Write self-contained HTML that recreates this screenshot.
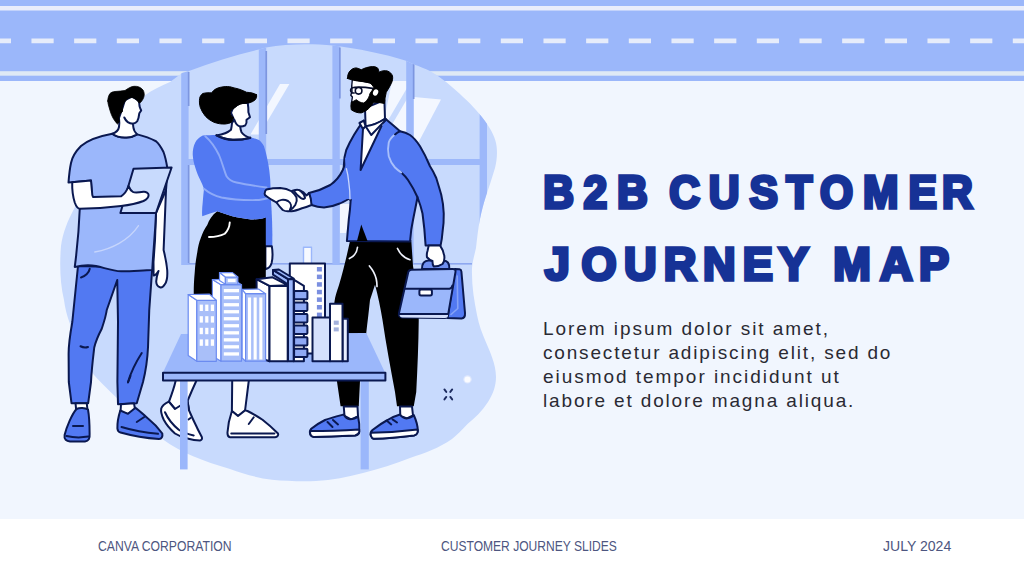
<!DOCTYPE html>
<html lang="en">
<head>
<meta charset="utf-8">
<title>B2B Customer Journey Map</title>
<style>
html,body{margin:0;padding:0;}
body{width:1024px;height:576px;overflow:hidden;background:#f1f6fe;position:relative;font-family:"Liberation Sans",sans-serif;}
#band{position:absolute;left:0;top:0;width:1024px;height:81.2px;background:#9bb7fa;}
#art{position:absolute;left:0;top:0;width:1024px;height:576px;}
#footer{position:absolute;left:0;top:518.5px;width:1024px;height:58px;background:#ffffff;}
.ft{position:absolute;top:538px;font-size:14.3px;line-height:16px;color:#4d5680;white-space:nowrap;transform-origin:0 50%;}
#title{font-family:"Liberation Sans",sans-serif;font-weight:bold;font-size:47px;fill:#163296;stroke:#163296;stroke-width:3.6;stroke-linejoin:miter;}
p{position:absolute;margin:0;left:543px;top:317.45px;font-size:19px;line-height:23.75px;color:#2a2a33;white-space:nowrap;}
p span{display:block;}
</style>
</head>
<body>
<div id="band"></div>
<div id="footer"></div>
<svg id="art" width="1024" height="576" viewBox="0 0 1024 576">
<g id="bandlines">
<rect x="0" y="6" width="1024" height="4.5" fill="#e9edfb"/>
<rect x="0" y="71.2" width="1024" height="4.5" fill="#dfe9f5"/>
<line x1="-11.2" y1="40.9" x2="1040" y2="40.9" stroke="#e6ecfa" stroke-width="4.8" stroke-dasharray="22.2 20.467"/>
</g>
<defs>
<clipPath id="blobclip"><path d="M182,73 L189,71 C212,62 236,55 259,49.5 L266,47.6 C288,43.5 312,43.5 333,45.6 C358,48.5 384,54 406,60.8 L414,64.4 C420,66.5 425,68.5 430,71 C438,75.5 445,81 452,87 C462,95.5 472,105 479,113.5 C487,123 493,132 495.5,141 C498,150 497,160 495,168 C492,178 489,187 486,196 C483.5,204 481.5,211 480,219 C478,229 477,239 476,248 C474.5,255 472.5,261 472,268 C471.5,285 474,300 477,315 C479,325 482,333 485,340 C490,352 496,364 496,377 C496,386 493,394 488,402 C482,411 475,418 467.5,424 C462,430 457,435 452,439 C439,448 425,453 410,458 C395,464 379,469 363,473 C348,477 332,480 316,481 C301,481.5 286,481 272,479.7 C257,478 243,473.5 230,469 C217,465 204,461 192.5,456 C182,451.5 172,446 163,439.5 C152,431 141,421 130,410.5 C117,398 104,386 94,375 C85,362 76,343 70,324 C67,316 65,308 64,300 C60,283 59.5,264 61,246 C63,232 68,220 74,209 C92,170 115,126 144,96 C152,90 161,86 170,82 Z"/></clipPath>
</defs>
<g id="blob">
<path fill="#c8dafd" d="M182,73 L189,71 C212,62 236,55 259,49.5 L266,47.6 C288,43.5 312,43.5 333,45.6 C358,48.5 384,54 406,60.8 L414,64.4 C420,66.5 425,68.5 430,71 C438,75.5 445,81 452,87 C462,95.5 472,105 479,113.5 C487,123 493,132 495.5,141 C498,150 497,160 495,168 C492,178 489,187 486,196 C483.5,204 481.5,211 480,219 C478,229 477,239 476,248 C474.5,255 472.5,261 472,268 C471.5,285 474,300 477,315 C479,325 482,333 485,340 C490,352 496,364 496,377 C496,386 493,394 488,402 C482,411 475,418 467.5,424 C462,430 457,435 452,439 C439,448 425,453 410,458 C395,464 379,469 363,473 C348,477 332,480 316,481 C301,481.5 286,481 272,479.7 C257,478 243,473.5 230,469 C217,465 204,461 192.5,456 C182,451.5 172,446 163,439.5 C152,431 141,421 130,410.5 C117,398 104,386 94,375 C85,362 76,343 70,324 C67,316 65,308 64,300 C60,283 59.5,264 61,246 C63,232 68,220 74,209 C92,170 115,126 144,96 C152,90 161,86 170,82 Z"/>
<g clip-path="url(#blobclip)">
<!-- glints -->
<polygon fill="#f3f7ff" points="280,84 289.4,84 259.5,134.5 250.5,134.5"/>
<polygon fill="#f3f7ff" points="392,81 407,81 407,140 380,140 "/>
<polygon fill="#c8dafd" points="407,88 407,99 383,140 376.5,140"/>
<polygon fill="#f3f7ff" points="414,97 441,99.4 416,147 414,147"/>
<!-- sill -->
<polygon fill="#f3f7ff" points="340,204 353,204 346,233 340,233"/>
<rect x="182" y="263" width="290" height="1.6" fill="#8ea8f0"/>
<!-- horizontal bar -->
<rect x="182" y="159" width="305" height="6" fill="#9db8fa"/>
<!-- mullions -->
<rect x="181.2" y="40" width="7.4" height="225" fill="#9db8fa"/>
<rect x="258.8" y="40" width="7.4" height="225" fill="#9db8fa"/>
<rect x="332.4" y="40" width="7.4" height="225" fill="#9db8fa"/>
<rect x="406.2" y="40" width="7.4" height="225" fill="#9db8fa"/>
<rect x="479.6" y="40" width="7.4" height="225" fill="#9db8fa"/>
<rect x="187.8" y="72" width="1.7" height="34" fill="#7d96e0"/>
<rect x="187.8" y="165" width="1.7" height="98" fill="#7d96e0"/>
<rect x="265.4" y="51" width="1.7" height="83" fill="#7d96e0"/>
<rect x="339" y="47.5" width="1.7" height="51" fill="#7d96e0"/>
<rect x="412.8" y="64" width="1.7" height="35" fill="#7d96e0"/>
</g>
</g>
<g id="manleft" stroke="#0a1850" stroke-width="2" stroke-linejoin="round" stroke-linecap="round" fill="none">
<!-- pants -->
<path fill="#5279f2" d="M78,266 L72.3,322 C70,335 68.6,345 68.6,353.75 L68.8,382 L71.5,403.2 L88.2,403.2 L91,382 C91.5,370 93,358 94.25,347.5 C96,340 99,334 101.75,328.75 C104,322 106,316 106.75,310 L117.25,280 L118,322 L117.4,382 L118,404.2 L136.75,403.2 L143,382 C146,370 147.5,358 148,347.5 L149.25,310 L152.25,268 Z"/>
<path d="M89.75,268.75 C89,273 85,276.5 81,277.5"/>
<path d="M80.5,346.25 C83,347.6 85.5,347.8 88,347"/>
<path d="M141.75,353 C136,362 131,372 128,382"/>
<path d="M130.5,376 L128,382.5"/>
<!-- socks -->
<path fill="#ffffff" d="M75.5,403.2 L76.2,410 L87.5,410 L86.75,403.2 Z"/>
<path fill="#ffffff" d="M121,404.2 L120.5,412 L128,414 L135,409 L134,403.3 Z"/>
<!-- left shoe (front view) -->
<path fill="#5279f2" d="M76.5,409 C72,414 66.5,427 64.6,435 C63.8,439.5 66.5,441.2 70,441.5 L85,441.5 C88.6,441.2 90,438.5 89.6,434 C89.6,425 89,415 88,409.5 C85,407.8 79.5,407.6 76.5,409 Z"/>
<path d="M66.5,436 C73,437.6 81,437.8 88.5,436.6"/>
<path d="M73,426 L83,426"/>
<!-- right shoe (side view) -->
<path fill="#5279f2" d="M120.3,410.5 C118.5,416 117.2,423 117.4,428.5 C117.6,431 118.8,432 120.5,432.5 C133,436 147,438.2 159,439 C161.8,438.8 162.8,436.2 162.3,433.5 C158,427.5 153,422.5 148,418.5 C144,415 139.5,410.5 135.5,407.8 L128,413.8 Z"/>
<path d="M121.5,427 C133,430.5 146,432.8 158,433.8"/>
<path d="M136.75,422 L144.25,417"/>
<!-- right arm hanging -->
<path fill="#ffffff" d="M157,166 L166.8,168 C166.6,176 166.2,184 166,190 C165.5,205 164.5,228 163.6,250 C165,256 166.5,262 167.2,270 C167.6,276 167,281 165,284 C163.5,286.5 161.5,287.8 160,287.3 C157.5,286.5 156.3,284 156.2,281.5 C156.3,278 157.5,274 158.5,271 C157,273.5 155.3,275.6 153.6,275.6 L153.5,262 L155,240 L156,213 Z"/>
<!-- shirt -->
<path fill="#9bb7fb" d="M112.25,133.75 C100,136 88,140 81,146 C75,152 72,158 71,163 C69.5,170 69,176 68.5,182.5 L91,180.6 L92,200 L79.75,209 C79,228 77,250 74.75,267 C82,265.2 90,265 96,266 C105,268 113,271 121,271.3 C131,271.5 142,270.2 152.25,270 C153,255 155,235 156,213 L166,190 L167.25,167.5 C166,160 165,156 163.5,152 C161,147 158,143 156,141.25 C150,138 144,136 137.25,134.4 C133,137 128,137.8 124.75,137.5 C120,137.5 116,136.5 112.25,133.75 Z"/>
<path stroke="#c6d5fc" stroke-width="1.3" d="M94.75,252 C112,249 129,240 138.5,225.6"/>
<!-- tablet -->
<path fill="#c8dafd" d="M133.5,168.75 L171.6,167.5 L156,213 L120.4,213 Z"/>
<!-- left arm + hand -->
<path fill="#ffffff" d="M72.2,182.3 C72,190 73,197 74.75,202.5 C76,206 77.5,208.5 79.75,208.75 C95,208.5 108,207.5 121,206 C130,205 137,203.5 143.5,201 C146.5,199.5 148.6,197.5 148.6,195 C148.6,193 146,191.6 143.5,191.8 C139,192.6 135,193.2 133,192 C130.5,190.6 129.5,188.4 128.5,186 C127.5,189 125.5,193.5 121,196.3 L93,197 L92.3,195 L91,180.6 Z"/>
<!-- neck + face -->
<path fill="#ffffff" d="M122.5,108 L119,118 C119.5,122 119.3,125 119,127 C118.6,129.5 116.5,132.3 112.25,133.75 C116,136.5 120,137.5 124.75,137.5 C128,137.8 133,137 137.25,134.4 C135,132.5 133.6,130 133.3,127 L133,123.8 C135,123.4 136.4,122.6 137.2,121.3 C138.4,119 139,116 139.3,113.3 L141.2,110.5 C140.4,108.8 139.8,107.3 139.5,106 L139,101 L132,96.5 L125,100 Z"/>
<path d="M124.3,117.5 C125.8,121 129,123.6 133,123.8"/>
<!-- hair -->
<path fill="#000000" stroke="#000000" stroke-width="0.8" stroke-linejoin="round" d="M107.75,101 C107.9,98 108.6,95.5 110,93.5 C111.3,92.3 113,91.7 115,91.5 C118.5,91.3 122,91 125,90.5 C126.3,89.6 127.6,88.7 129,88 C130.6,87 132.3,86.4 134,86.3 C135.8,86.2 137.5,86.4 139,87 C140.7,87.7 142,88.7 143,90 C143.9,91.5 144.3,93.2 144.2,95 C144.1,96.5 143.7,97.8 143,99 C142.3,100.3 141.5,101.5 140.5,102.5 L139,103 C138.2,101.6 137.2,100.4 136,99.5 C134.8,98.5 133.5,97.8 132,97.5 C130.4,97.4 128.9,97.9 127.5,99 C126.1,100.1 125,101.5 124,103 C123.2,104.6 122.7,106.3 122.5,108 L122.5,111.5 C121.8,112.5 120.8,113.2 120,114 C119.4,115.3 119.1,116.6 119,118 C119,119.3 119.2,120.4 119.5,121.5 C119,122.6 118.4,123.4 117.5,124 C116.5,123.2 115.7,122.2 115,121 C114,119.8 113.2,118.4 112.5,117 C111.7,115.4 111,113.7 110.5,112 C109.9,110.4 109.4,108.7 109,107 C108.4,105 107.9,103 107.75,101 Z"/>
</g>
<g id="woman" stroke="#0a1850" stroke-width="2" stroke-linejoin="round" stroke-linecap="round" fill="none">
<!-- legs -->
<path fill="#ffffff" d="M176.5,372 L196.5,372 L196.25,381 C193,388 190,395 187.5,401 L189,409.5 L175,409 L169,401.6 C171.5,395 174,388 175.6,381 Z"/>
<path fill="#ffffff" d="M232.3,372 L249,372 L248.75,381 C247.5,391 246.2,401 245,411 L238,416 L231.9,411 Z"/>
<!-- left shoe -->
<path fill="#ffffff" d="M168.75,401.6 C165,403.5 162,406 161.25,408.5 C160.5,412 162,416 163.75,419.75 C166.5,425 170.5,429.5 175,433.5 C179,436 183,437.6 187.5,438.5 C192,439.8 196,440.4 200,440.4 C201.8,440 202.3,438.6 201.9,437.25 C200,433.5 198,430 196.25,426 C193.5,420.5 191,415 188.75,409.75 L187.5,401 L180.5,405.5 L175,409 Z"/>
<path d="M165,412.25 C168,419 173,425 178.75,429.75 C183,432.5 188,434.3 193.75,435.4"/>
<path d="M188.5,419.5 L190.5,418"/>
<!-- right shoe -->
<path fill="#ffffff" d="M231.9,411 C229.5,418 228,425 227.5,432.25 C227.3,435.5 228.3,437 230,437.25 L275,437.25 C277.5,437 278.6,435.2 278,433.5 C273,428.5 268,424 262.5,419.75 C257.5,416.5 252.5,413.5 247.5,411 L245,410.4 L238,416 Z"/>
<path d="M231.25,433.5 L274.4,433.5"/>
<path d="M248.75,424 L253.75,417.25"/>
<!-- far arm -->
<path stroke="none" fill="#5279f2" d="M265,214 L270.6,196 C272,212 272.6,230 272.3,246.5 L265,246.5 Z"/>
<path fill="#ffffff" d="M265.4,246.2 L271.8,246.2 C272.8,252 272.8,258 271.6,263 C270.6,266.5 268.5,268.6 265.4,269.2 Z"/>
<!-- skirt -->
<path stroke="none" fill="#000000" d="M217.25,211.25 C212,215 209,220 207.25,225 C204.5,229 202.5,233 201,237.5 C199,242 198,247 197.25,252.5 C196,259 195.2,265 194.75,272 C194,280 193.75,286 193.75,292 L193.75,298 L265.8,298 L265.8,217.5 C260,219.3 255.5,219.6 251,219.4 C244,218.6 238,217.6 232.25,216.25 C227,214.8 222,213 217.25,211.25 Z"/>
<path stroke="#ffffff" stroke-width="1.9" d="M229.75,222.5 C229.5,227 227.5,231 224.75,233.75 C220.5,236 215,237 209,237"/>
<!-- sweater -->
<path stroke="none" fill="#5279f2" d="M216.5,135 C212,135 207,135.2 202.75,135.6 C199,137.5 196.5,140 195.25,142.5 C193.2,146.5 192.6,151 192.75,155 C193,159.5 194,163.5 195.25,167.5 C196.6,172 198.3,176 200.25,180 C201.8,183 203,186 204,188.75 C203.6,193 203,197.5 202.75,202 C202.2,207 201.8,212 202.25,216.25 L210,213.5 L217.25,211.25 C222,213 227,214.8 232.25,216.25 C238,217.6 244,218.6 251,219.4 C255.5,219.6 260,219.3 265.4,217.5 L271,216 L270.6,190 L270.25,180 C269.8,173.5 269,167 267.75,161.25 C266.8,156 265.5,151 264,146.25 C262.5,143.5 261,141.5 259,140 C256,138.8 253,138 250.25,137.5 C245,139 239,139.9 232.75,139.75 C227,139.5 221,137.5 216.5,135 Z"/>
<path stroke="#8eaaf8" stroke-width="1.9" d="M205.25,136.25 C212,142 216,149 219,155 C222,162 224,170 226.5,176.25 C229,180 232,181.5 236.5,182.5 C246,184.5 256,186 266.5,187.5"/>
<path stroke="#8eaaf8" stroke-width="1.9" d="M204,188.75 C209,193 215,196 221.5,197.5 C233,199.8 246,200.3 259,200 C263,199.5 267,198.5 270.25,197.5"/>
<!-- neck + face -->
<path fill="#ffffff" d="M234,119.75 C233.5,121 232.5,122 232,123 C231.8,125.5 231.5,127.5 231,129.75 C228,132.5 222.5,134.5 216.5,135.4 C221,137.5 227,139.5 232.75,139.75 C239,139.9 245,139 250.25,137.9 C246,136.5 243,134.5 241.5,132.25 C240.8,130.5 240.4,128.5 240.25,126.6 C242,126.6 244,126.2 245.25,125.4 C246.5,124 246.8,121.8 246.5,119.75 L250,117.25 C249.5,115.5 249,114 248.4,112.25 C248.5,109 248.2,106 247.75,102.9 L240,103 L233,108 L231,113 Z"/>
<path d="M234.5,120 C235.5,123.5 237.5,125.8 240.25,126.6"/>
<path stroke-width="2.2" d="M216.5,135.2 C221,137.7 227,139.7 232.75,139.95 C239,140.1 245,139.2 250.25,137.7"/>
<!-- hair -->
<path fill="#000000" stroke="#000000" stroke-width="1" d="M256.5,94.75 C254,93 250,92.5 246.5,92.25 C242,90 238,88.6 234,87.9 C231,86.8 228,86.4 225.25,86.6 C222,86.8 219,87.5 216.5,88.5 C214.5,89.5 213,91 211.5,92.9 C208.5,92.6 205.5,92.8 202.75,93.5 C201,94.8 200,96.5 199.6,98.5 C199.2,101.5 199.5,104.5 200.25,107.25 C201.5,110.5 203.2,113.5 205.25,116 C207.8,118.8 210.8,120.8 214,122.25 C217.5,123.6 221.5,124.2 225.25,124 C227.5,123.8 229.8,123.2 231.5,122.25 C232.5,120.5 233.2,119 233.4,117.25 C231.8,116.5 230.3,115 230.25,112.9 C230.5,110.5 232,109 234,108.5 C236,106 239,104.3 242.75,103.5 C245,103.1 247,103 249,102.9 C251.5,102.3 253.6,101.2 255.25,99.75 C256.5,98.2 257,96.5 256.5,94.75 Z"/>
</g>
<g id="manright" stroke="#0a1850" stroke-width="2" stroke-linejoin="round" stroke-linecap="round" fill="none">
<!-- pants -->
<path stroke="none" fill="#000000" d="M350,241 C347,255 343,272 339,285 C337,291 335.5,296 335,298.5 C334,304 333.6,310 334,318 C334.5,340 335.5,360 336.9,381 L340.6,406.25 L358.75,406.25 L360,381 C361,365 363.5,348 366.25,333 C367.5,322 369,310 370,300 L375,284.75 C378,296 380.5,308 382.5,320 C386,344 390.5,368 395,392 L397,406.25 L413.75,406.25 L416.25,392 C417.5,368 418.5,344 418.75,320 C418,300 416,282 413,266 L411.25,240 L350,240 Z"/>
<path stroke="#eef1fb" stroke-width="1.7" d="M369.4,266 C372.5,269.5 375,274 376.25,279 C376.8,281.5 377,284 377,286.5"/>
<path stroke="#eef1fb" stroke-width="1.7" d="M357.5,247.25 C357,252 354,256.5 349.4,258.5"/>
<path stroke="#eef1fb" stroke-width="1.7" d="M397.5,248.5 C400,254 404.5,258 410,259.75"/>
<!-- socks -->
<path fill="#ffffff" d="M343.75,406.5 L344.5,416 L351,419.5 L358,416.5 L357.5,406.5 Z"/>
<path fill="#ffffff" d="M400,406.5 L400.3,416 L407,418.5 L413,415.5 L412,406.5 Z"/>
<!-- left shoe -->
<path fill="#5279f2" d="M343.75,414.5 C336,416.5 330,418 325,420 C320,422.5 315,425.5 311.25,428.75 C309.8,430.5 309.6,433 310.5,434.8 C311.2,436.2 312.4,437 313.75,437 C327.5,437 341.5,436.3 355,435.6 C357.5,435.2 359,433.5 359.4,431.5 C359.6,426 359,420.5 358,416.25 C356,418.2 353,419.2 350,419.2 C347,419 345,417 343.75,414.5 Z"/>
<path fill="#ffffff" d="M310.3,431 C326,431 343,430.4 359.3,429.4 L359.4,431.5 C359,433.5 357.5,435.2 355,435.6 C341.5,436.3 327.5,437 313.75,437 C312.4,437 311.2,436.2 310.5,434.8 C310,433.6 310,432.2 310.3,431 Z"/>
<path d="M327.5,422 L332.5,427"/><path d="M333,420 L338,424.4"/>
<!-- right shoe -->
<path fill="#5279f2" d="M400,414.5 C395,416 391,417.8 387.5,420 C382,423 377,426.5 372.5,430 C370.6,431.8 370.2,434 371,436 C371.6,437.6 372.6,438.6 373.75,438.75 C388,438.2 402,436.8 414,435.4 C416.3,435 417.6,433 417.8,431 C417.9,425.5 416,420 413.75,415 C412,417.2 409.5,418.4 406.5,418.4 C403.5,418.2 401.3,416.6 400,414.5 Z"/>
<path fill="#ffffff" d="M371,432.8 C386,432.5 402,431.3 417.6,429.4 L417.8,431 C417.6,433 416.3,435 414,435.4 C402,436.8 388,438.2 373.75,438.75 C372.6,438.6 371.6,437.6 371,436 C370.6,435 370.7,433.8 371,432.8 Z"/>
<path d="M387.5,421.25 L391.25,424.4"/><path d="M392.5,419.4 L397,422.5"/>
<!-- jacket silhouette -->
<path fill="#5279f2" d="M363.75,120.6 C358,128 351,139 346.25,150 C344.5,155 343.8,161 343.75,166.25 C345.5,170 347.5,173 348.75,176 C350,184 350.6,193 350.6,201 C350.3,207 349.6,213.5 348.75,219.75 L346.9,241 L410,241.6 L411.25,229.75 C413,219 415.5,208 417.5,197.25 C419.5,202.5 421.3,208 422.5,213.5 C424,224 425,235 425.6,245.4 L440.6,245.4 C441.6,241 442.2,236.5 442.5,232.25 C443.5,226 443.9,220 443.75,213.5 C443.5,207 442.6,200.5 441.25,194.75 C439.5,188.5 437.5,182 436.25,178 C434.5,174 432.5,170 430,166.25 C427,159 423.5,152 420,146.25 C417,141.5 413.5,137.5 410,135 C407,133.2 403.5,132 400,131.25 C395,127 390.5,123 386.25,119.4 L371.25,135 Z"/>
<path stroke="none" fill="#000000" d="M361.25,224.5 L357,241 L367.5,241 Z"/>
<path d="M401.25,172.5 C404,175 406,177 408,180 C412,186 415,191.5 417.5,197.25"/>
<path stroke="#a9c0fb" stroke-width="1.9" d="M395,134.4 C391.5,137 389.5,139.8 388.75,142.5 C387.8,147 387.8,152 388.75,156.25 C390,160.5 392.2,164.3 395,167.5 C397,169.5 399,171 401.25,172.5"/>
<path d="M395,134.4 C397,132.5 398.5,131.8 400,131.25"/>
<!-- handshake sleeve -->
<path fill="#5279f2" d="M309,193 C316,191.5 323,189 330.25,185 C336,181 340,176 342.75,170 C344,167 345,164 346,160 L350.5,200 C350,199.4 349.6,199 349,198.75 C346,200.5 342.5,202.5 339,203.75 C334,206 329,207.2 324,207.5 C319.5,207.3 315.5,206.5 311.5,205 Z"/>
<path stroke="none" fill="#5279f2" d="M345,158 L352,158 L352,199 L347,199 Z"/>
<path stroke="#c9d7fd" stroke-width="1.3" d="M346.4,168.75 C347.6,173 348.4,177.5 348.75,182 C349.6,188 350,194 350,199"/>
<!-- shirt V + collar + neck -->
<path stroke="none" fill="#ffffff" d="M363,125 L360.6,170 L384,122 Z"/>
<path d="M363,128.75 L360.6,170 L381.5,126"/>
<path fill="#ffffff" d="M365,108 L365.6,126.25 C372,125.5 379,122.8 385,118.75 L384.4,100 Z"/>
<path fill="#ffffff" d="M359.4,123 L363.75,120.6 L365.6,126.25 L363,129 Z"/>
<path fill="#ffffff" d="M365.6,126.25 C372,125.5 379,122.8 385,118.75 L386.25,119.4 L371.25,135 Z"/>
<!-- face -->
<path fill="#ffffff" stroke="#060c2a" stroke-width="1.4" d="M352.4,79 C351.6,84 351.6,88 352,91.5 L350.8,95.2 L352.4,97 L351.6,102.25 L356,108 L372,100 L376,84 Z"/>
<!-- hair + beard -->
<path fill="#000000" stroke="#000000" stroke-width="1" d="M347.5,78.5 C347.5,75 348.5,72.5 350,71 C351.5,69 353.8,68 356.25,67.9 C358,68.2 359.8,69 361.25,69.75 C364.5,68 368.5,66.8 372.5,66.6 C374.5,66.6 376.3,67 377.5,67.9 C378.5,69 378.8,70.6 378.75,72.25 C381.5,70.8 384.8,70.3 387.5,71 C390,72 391.8,73.8 392.5,76 C393,78.5 392.4,81.2 391.25,83.5 C389.8,86.5 388,89.5 386.25,92.25 C385.3,96 384.7,99.8 384.4,103.5 C381,102.6 377.5,102.2 373.75,102.25 C372.3,104.5 370.6,106.6 368.75,108.5 C366.5,110.5 364,112 361.25,112.9 C357.5,113 354,111.8 351.25,109.75 C350.8,107.2 350.8,104.8 351.25,102.25 C353,101.6 355,100.6 356.25,99.75 C358.5,101.6 361,103 363.75,103 C366,101.5 367.8,99.5 368.75,97.25 C369.3,96 369.7,94.8 370,93.5 C371.5,91.5 372.8,89.5 373.75,87.25 C372.8,85.5 371.5,84 370,82.9 C366,82 361.5,81.3 357.5,81 C354,80.5 350.5,79.6 347.5,78.5 Z"/>
<ellipse cx="375.6" cy="92.4" rx="2.5" ry="3.3" transform="rotate(25 375.6 92.4)" fill="#ffffff" stroke="none"/>
<circle cx="358.6" cy="90.8" r="3.3" stroke="#060c2a" stroke-width="1.6"/>
<path stroke="#060c2a" stroke-width="1.6" d="M354.6,87.6 C352.2,87.2 350.6,88.6 350.6,90.2 C350.6,92 352,93.2 354.2,93"/>
<path stroke="#060c2a" stroke-width="1.6" d="M355,87.3 C360,86.9 366,87.3 372.5,88.4"/>
</g>
<g id="hands" stroke="#0a1850" stroke-width="2" stroke-linejoin="round" stroke-linecap="round" fill="none">
<path fill="#ffffff" d="M290,192 C293,190 297,189.5 300,190.5 C303,191.5 305,193.5 306.5,195.5 L309,193 C310.6,196.5 311.3,201 311.5,205 C308,206.5 305,207.6 302,208.2 C298,209.8 294.5,211 291.5,211.25 C289,211.5 286,210.5 284,208 Z"/>
<path fill="#ffffff" d="M264.6,193.75 C264.8,191.5 265.5,190 266.5,189.4 C271,188.4 275.5,188 280.25,188 C284.5,188.3 288.5,189.5 291.5,191.25 C293.5,193 295.5,195 296.5,197.5 C297.2,200 296.6,202.8 295.25,205 C293.6,207.5 291.5,209.8 289,211.25 C287,211.5 284.5,211 282.75,210 C280.5,207.8 278.3,205 276.5,202.5 C273,200.5 269.5,198.5 266.5,196.25 C265.2,195.6 264.6,194.8 264.6,193.75 Z"/>
<path d="M276.5,202.5 C279,199.5 284,199 288,201 C291,203 292,206.5 290,209.5"/>
<path fill="#ffffff" d="M294,191 C296,189.5 299,189.8 301,191.5 C303.5,193.5 305,196 305,198 C304.3,199.2 302.5,199 301,198.2 C298.5,196.5 296,194 294,191 Z"/>
</g>
<g id="table">
<polygon fill="#9bb7fb" points="181,334 366.25,333 385,372.5 163,372.5"/>
</g>
<g id="buildings" stroke-linejoin="round" stroke-width="1.2">
<rect x="303.5" y="247.3" width="8" height="17" fill="#f6f9ff" stroke="#9bb7fb" stroke-width="1.4"/>
<rect x="289.8" y="263.6" width="35.2" height="90" fill="#ffffff" stroke="#0a1850" stroke-width="2"/>
<rect x="316.9" y="267.0" width="5" height="4.5" fill="#7b8fe0" stroke="none"/>
<rect x="316.9" y="274.6" width="5" height="4.5" fill="#7b8fe0" stroke="none"/>
<rect x="316.9" y="282.2" width="5" height="4.5" fill="#7b8fe0" stroke="none"/>
<rect x="316.9" y="289.8" width="5" height="4.5" fill="#7b8fe0" stroke="none"/>
<rect x="316.9" y="297.4" width="5" height="4.5" fill="#7b8fe0" stroke="none"/>
<rect x="316.9" y="305.0" width="5" height="4.5" fill="#7b8fe0" stroke="none"/>
<rect x="316.9" y="312.6" width="5" height="4.5" fill="#7b8fe0" stroke="none"/>
<polygon points="293.7,279.6 303.9,285.9 303.9,361.25 293.7,361.25" fill="#ffffff" stroke="#0a1850" stroke-width="2"/>
<rect x="294.1" y="291.0" width="13.3" height="8.3" rx="0.8" fill="#8fa9f4" stroke="#0a1850" stroke-width="2"/>
<rect x="294.1" y="302.6" width="13.3" height="8.3" rx="0.8" fill="#8fa9f4" stroke="#0a1850" stroke-width="2"/>
<rect x="294.1" y="314.1" width="13.3" height="8.3" rx="0.8" fill="#8fa9f4" stroke="#0a1850" stroke-width="2"/>
<rect x="294.1" y="325.6" width="13.3" height="8.3" rx="0.8" fill="#8fa9f4" stroke="#0a1850" stroke-width="2"/>
<rect x="294.1" y="337.2" width="13.3" height="8.3" rx="0.8" fill="#8fa9f4" stroke="#0a1850" stroke-width="2"/>
<rect x="294.1" y="348.8" width="13.3" height="8.3" rx="0.8" fill="#8fa9f4" stroke="#0a1850" stroke-width="2"/>
<polygon points="256.6,279.2 269.5,285.9 269.5,361.25 256.6,357" fill="#ffffff" stroke="#0a1850" stroke-width="2"/>
<rect x="269.5" y="285.9" width="18.2" height="75.35" fill="#ffffff" stroke="#0a1850" stroke-width="2"/>
<polygon points="256.6,279.2 272.6,277.3 287.7,285.2 269.5,285.9" fill="#ffffff" stroke="#0a1850" stroke-width="2"/>
<polygon points="273,269.9 288.2,279.2 288.2,284.5 273,274.6" fill="#9bb7fb" stroke="#0a1850" stroke-width="2"/>
<rect x="288" y="279.2" width="5.7" height="82" fill="#9bb7fb" stroke="#0a1850" stroke-width="2"/>
<polygon points="273,269.9 278.9,269.5 293.7,278.5 288.2,279.2" fill="#9bb7fb" stroke="#0a1850" stroke-width="2"/>
<polygon points="242.1,289.4 245.6,293.7 245.6,361.25 242.1,358" fill="#ffffff" stroke="#6b8bf0"/>
<rect x="245.6" y="293.7" width="20" height="67.5" fill="#a9bff9" stroke="#6b8bf0"/>
<polygon points="242.1,289.4 258.5,289 265.6,293.7 245.6,293.7" fill="#ffffff" stroke="#6b8bf0"/>
<rect x="248" y="297.5" width="3.1" height="62" fill="#ffffff" stroke="none"/>
<rect x="253.6" y="297.5" width="3.1" height="62" fill="#ffffff" stroke="none"/>
<rect x="259.3" y="297.5" width="3.1" height="62" fill="#ffffff" stroke="none"/>
<polygon points="212.4,279.6 221,284.7 221,361.25 212.4,356" fill="#ffffff" stroke="#6b8bf0"/>
<rect x="221" y="284.7" width="20.5" height="76.5" fill="#a9bff9" stroke="#6b8bf0"/>
<polygon points="212.4,279.6 233,279.3 241.5,284.7 221,284.7" fill="#ffffff" stroke="#6b8bf0"/>
<polygon points="219.5,272.6 225.4,277 225.4,284.2 219.5,280.5" fill="#ffffff" stroke="#6b8bf0"/>
<rect x="225.4" y="277" width="12.4" height="7.4" fill="#a9bff9" stroke="#6b8bf0"/>
<rect x="227.8" y="278.9" width="7.8" height="3.2" fill="#ffffff" stroke="none"/>
<polygon points="219.5,272.6 232.5,272.6 237.8,277 225.4,277" fill="#ffffff" stroke="#6b8bf0"/>
<rect x="223.8" y="289.0" width="15.2" height="3.3" fill="#ffffff" stroke="none"/>
<rect x="223.8" y="296.0" width="15.2" height="3.3" fill="#ffffff" stroke="none"/>
<rect x="223.8" y="303.1" width="15.2" height="3.3" fill="#ffffff" stroke="none"/>
<rect x="223.8" y="310.1" width="15.2" height="3.3" fill="#ffffff" stroke="none"/>
<rect x="223.8" y="317.1" width="15.2" height="3.3" fill="#ffffff" stroke="none"/>
<rect x="223.8" y="324.1" width="15.2" height="3.3" fill="#ffffff" stroke="none"/>
<rect x="223.8" y="331.2" width="15.2" height="3.3" fill="#ffffff" stroke="none"/>
<rect x="223.8" y="338.2" width="15.2" height="3.3" fill="#ffffff" stroke="none"/>
<rect x="223.8" y="345.2" width="15.2" height="3.3" fill="#ffffff" stroke="none"/>
<rect x="223.8" y="352.3" width="15.2" height="3.3" fill="#ffffff" stroke="none"/>
<polygon points="188.2,294.5 196.8,300.3 196.8,361.25 188.2,355.6" fill="#ffffff" stroke="#6b8bf0"/>
<rect x="196.8" y="300.3" width="19.5" height="61" fill="#a9bff9" stroke="#6b8bf0"/>
<polygon points="188.2,294.5 209.5,294.2 216.3,300.3 196.8,300.3" fill="#ffffff" stroke="#6b8bf0"/>
<rect x="199.7" y="304.6" width="3.2" height="6.4" fill="#ffffff" stroke="none"/>
<rect x="205.2" y="304.6" width="3.2" height="6.4" fill="#ffffff" stroke="none"/>
<rect x="210.8" y="304.6" width="3.2" height="6.4" fill="#ffffff" stroke="none"/>
<rect x="199.7" y="316.2" width="3.2" height="6.4" fill="#ffffff" stroke="none"/>
<rect x="205.2" y="316.2" width="3.2" height="6.4" fill="#ffffff" stroke="none"/>
<rect x="210.8" y="316.2" width="3.2" height="6.4" fill="#ffffff" stroke="none"/>
<rect x="199.7" y="327.8" width="3.2" height="6.4" fill="#ffffff" stroke="none"/>
<rect x="205.2" y="327.8" width="3.2" height="6.4" fill="#ffffff" stroke="none"/>
<rect x="210.8" y="327.8" width="3.2" height="6.4" fill="#ffffff" stroke="none"/>
<rect x="199.7" y="339.4" width="3.2" height="6.4" fill="#ffffff" stroke="none"/>
<rect x="205.2" y="339.4" width="3.2" height="6.4" fill="#ffffff" stroke="none"/>
<rect x="210.8" y="339.4" width="3.2" height="6.4" fill="#ffffff" stroke="none"/>
<rect x="312.5" y="317.5" width="17.5" height="43.75" fill="#d5e0fd" stroke="#0a1850" stroke-width="2"/>
<rect x="342.5" y="318.75" width="5.3" height="42.5" fill="#e8eeff" stroke="#0a1850" stroke-width="2"/>
<rect x="330" y="303.75" width="12.5" height="57.5" fill="#ffffff" stroke="#0a1850" stroke-width="2"/>
<rect x="333.75" y="320.6" width="5" height="4.2" fill="#a3b1dc" stroke="none"/>
<rect x="333.75" y="327.4" width="5" height="4" fill="#a3b1dc" stroke="none"/>
</g>
<g id="tablefront">
<rect x="180" y="380" width="7.6" height="89.4" fill="#9bb7fb"/>
<rect x="360.6" y="380" width="8.2" height="89.4" fill="#9bb7fb"/>
<rect x="163" y="372.7" width="222.4" height="7.8" fill="#9bb7fb" stroke="#0a1850" stroke-width="2" stroke-linejoin="round"/>
</g>
<g id="briefcase" stroke="#0a1850" stroke-width="2" stroke-linejoin="round" stroke-linecap="round" fill="none">
<path fill="#6f8ff0" d="M422,269 C421.8,263.5 424.5,260.4 428.5,260.4 L443.5,260.4 C447.5,260.4 449.6,263.5 449.3,269 Z"/>
<path fill="#5279f2" d="M455,269 L459.5,269.2 C460.8,269.4 461.3,270.2 461.4,271.5 L465,313 C465.2,316 464,318.2 461.5,318.5 L447.5,318 Z"/>
<path stroke="#86a3f7" stroke-width="1.6" d="M457.2,276 L457.8,308.5 L451,314.5"/>
<path fill="#9bb7fb" d="M411.5,269.7 L453,269 C455,269 455.8,270 455.5,271.8 L448,315.5 C447.8,317.3 446.8,318 445,318 L402.5,317.6 C399.6,317.4 398.4,315.6 399,313 L408.3,272 C408.8,270.4 409.8,269.7 411.5,269.7 Z"/>
<path d="M405,288.75 L449.5,288.75 C451.2,288.4 452,287.2 452.4,285.5"/>
<path stroke="none" fill="#d3defc" d="M399.6,314 L448.2,314 L448,315.5 C447.8,317.3 446.8,318 445,318 L402.5,317.6 C400.4,317.4 399.3,316 399.6,314 Z"/><path d="M399.5,314 L448,314"/>
<rect x="419.4" y="289.6" width="12.5" height="5.8" rx="1.6" fill="#ffffff"/>
<path fill="#ffffff" d="M428.75,245.4 L440,245.4 C442.5,249 444.2,253 444.4,257.25 C444.5,260 443.8,262.5 442.5,264 C440,265.8 437,266.6 433.75,266.6 C432.8,265 432.4,263 432.5,261 C430.5,260.4 428.5,259 427,257.25 C426.6,255 426.8,253 427.5,251 Z"/>
</g>
<g id="sparkle" stroke="#1c2a5e" stroke-width="1.9" stroke-linecap="round">
<line x1="450.3" y1="396.9" x2="452.2" y2="399.4"/>
<line x1="446.3" y1="396.9" x2="444.4" y2="399.4"/>
<line x1="446.3" y1="391.9" x2="444.4" y2="389.4"/>
<line x1="450.3" y1="391.9" x2="452.2" y2="389.4"/>
<circle cx="467.5" cy="379.4" r="4.2" fill="#dfe8fe" stroke="none"/><circle cx="467.5" cy="379.4" r="3" fill="#fbfcff" stroke="none"/>
</g>

<g id="title">
<text transform="scale(0.905,1)" x="600.3 644.8 681.8 710.6 739.5 783.1 828.2 868.8 906.2 953.7 1003.9 1040.9" y="208">B2B CUSTOMER</text>
<text transform="scale(0.96,1)" x="567.5 605.8 649.9 691.5 732.4 773.8 810.9 839.5 868.1 916.8 957.4" y="280.3">JOURNEY MAP</text>
</g>
</svg>
<p><span style="letter-spacing:1.95px">Lorem ipsum dolor sit amet,</span><span style="letter-spacing:1.83px">consectetur adipiscing elit, sed do</span><span style="letter-spacing:1.96px">eiusmod tempor incididunt ut</span><span style="letter-spacing:1.85px">labore et dolore magna aliqua.</span></p>
<div class="ft" style="left:98px;transform:scaleX(0.852)">CANVA CORPORATION</div>
<div class="ft" style="left:441px;transform:scaleX(0.844)">CUSTOMER JOURNEY SLIDES</div>
<div class="ft" style="left:883px;transform:scaleX(0.983)">JULY 2024</div>
</body>
</html>
